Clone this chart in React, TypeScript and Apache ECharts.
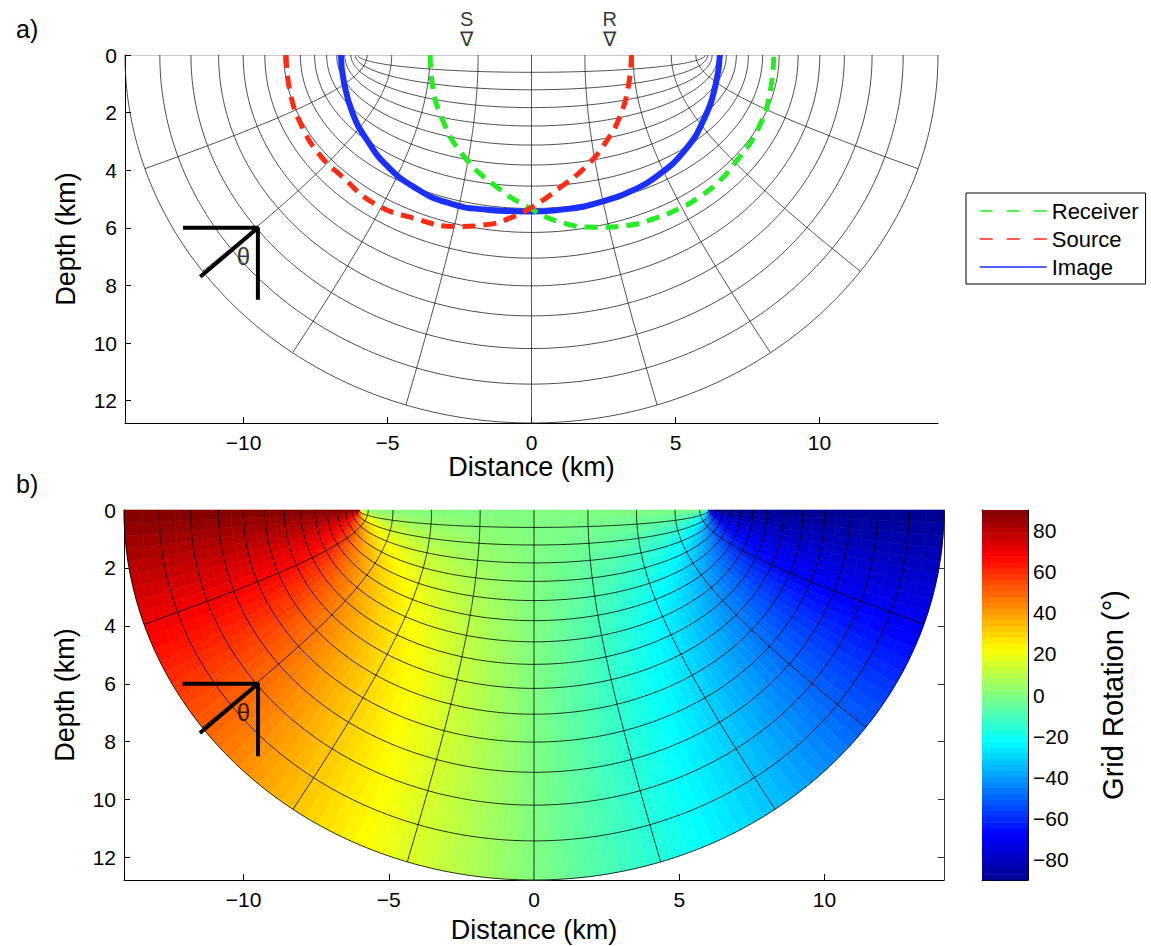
import React, { useEffect, useRef } from 'react';
import * as echarts from 'echarts';

// Elliptic coordinate grid parameters
const FOCUS = 6; // km, foci at +/- FOCUS on the surface
const U_LEVELS = [0.1, 0.2, 0.3, 0.4, 0.5, 0.6, 0.7, 0.8, 0.9, 1.0, 1.1, 1.2, 1.3, 1.4, 1.5];
const U_OUTER = 1.5;
const V_LEVELS_DEG = [18, 36, 54, 72, 90, 108, 126, 144, 162];

// Curves (x km, depth km)
const RECEIVER: number[][] = [
  [-3.52, 0], [-3.46, 0.9], [-3.15, 2.1], [-2.4, 3.45], [-1.25, 4.55], [0, 5.35], [1.0, 5.8],
  [2.2, 5.98], [3.3, 5.92], [4.2, 5.7], [5.2, 5.3], [5.8, 4.95], [6.5, 4.4], [7.1, 3.7],
  [7.85, 2.6], [8.3, 1.2], [8.41, 0],
];
const SOURCE: number[][] = [
  [-8.52, 0], [-8.38, 1.3], [-7.94, 2.54], [-7.31, 3.52], [-6.6, 4.2], [-5.47, 5.15],
  [-4.1, 5.66], [-2.6, 5.95], [-1.5, 5.88], [-0.6, 5.6], [0.05, 5.26], [0.97, 4.62],
  [1.89, 3.87], [2.6, 3.0], [3.1, 2.05], [3.38, 0.98], [3.47, 0],
];
const IMAGE: number[][] = [
  [-6.62, 0], [-6.52, 0.9], [-6.2, 2.05], [-5.68, 3.0], [-5.01, 3.85], [-4.09, 4.58],
  [-2.94, 5.12], [-1.56, 5.37], [-0.2, 5.43], [1.2, 5.35], [2.48, 5.08], [3.5, 4.7],
  [4.3, 4.25], [5.33, 3.3], [6.0, 2.2], [6.4, 1.0], [6.54, 0],
];

const SR_NAMES = ['S', 'R'];
const SR_X = [-2.25, 2.72];

const THETA_ARMS: number[][] = [[-12.1, 6], [-9.5, 6], [-9.5, 8.5]];
const THETA_RAY: number[][] = [[-9.5, 6], [-11.5, 7.7]];
const THETA_LABEL: number[] = [-10.0, 7.0];

const X_TICKS = [-10, -5, 0, 5, 10];
const Y_TICKS = [0, 2, 4, 6, 8, 10, 12];
const CB_TICKS = [-80, -60, -40, -20, 0, 20, 40, 60, 80];
const CB_MIN = -90;
const CB_MAX = 90;
const JET = ['#00008f', '#0000ff', '#0080ff', '#00ffff', '#80ff80', '#ffff00', '#ff8000', '#ff0000', '#800000'];

const FONT = "'Liberation Sans', Arial, Helvetica, sans-serif";

function ell(u: number, vDeg: number): number[] {
  const v = (vDeg * Math.PI) / 180;
  return [FOCUS * Math.cosh(u) * Math.cos(v), FOCUS * Math.sinh(u) * Math.sin(v)];
}

function rotationDeg(u: number, vDeg: number): number {
  const v = (vDeg * Math.PI) / 180;
  return (Math.atan(-Math.tanh(u) * (Math.cos(v) / Math.sin(v))) * 180) / Math.PI;
}

const X_EXT = FOCUS * Math.cosh(U_OUTER);
const Z_EXT = FOCUS * Math.sinh(U_OUTER);

function gridLineData(): any[] {
  const out: any[] = [];
  for (const u of U_LEVELS) {
    for (let d = 0; d <= 180; d += 1) out.push(ell(u, d));
    out.push(['-', '-']);
  }
  for (const vd of V_LEVELS_DEG) {
    for (let k = 0; k <= 150; k++) out.push(ell((k / 150) * U_OUTER, vd));
    out.push(['-', '-']);
  }
  return out;
}

function cellData(): number[][] {
  const NU = 30;
  const NV = 90;
  const out: number[][] = [];
  for (let i = 0; i < NU; i++) {
    const u0 = (i / NU) * U_OUTER;
    const u1 = ((i + 1) / NU) * U_OUTER;
    for (let j = 0; j < NV; j++) {
      const v0 = (j / NV) * 180;
      const v1 = ((j + 1) / NV) * 180;
      out.push([u0, u1, v0, v1, rotationDeg((u0 + u1) / 2, (v0 + v1) / 2)]);
    }
  }
  return out;
}

function colorbarData(): number[][] {
  const N = 64;
  const out: number[][] = [];
  for (let i = 0; i < N; i++) {
    const a = CB_MIN + ((CB_MAX - CB_MIN) * i) / N;
    const b = CB_MIN + ((CB_MAX - CB_MIN) * (i + 1)) / N;
    out.push([a, b, 0, 0, (a + b) / 2]);
  }
  return out;
}

const minus = (v: any) => String(v).replace('-', '\u2212');

function valueXAxis(gridIndex: number, withLabels: boolean, name?: string, nameGap?: number) {
  return {
    type: 'value', gridIndex, position: 'bottom', min: -X_EXT, max: X_EXT,
    name: name || '', nameLocation: 'middle', nameGap: nameGap || 30,
    nameTextStyle: { fontSize: 27, color: '#000', fontFamily: FONT },
    axisLine: { show: true, onZero: false, lineStyle: { color: '#000', width: 1 } },
    axisTick: { show: true, inside: true, length: 6, customValues: X_TICKS, lineStyle: { color: '#000' } },
    axisLabel: { show: withLabels, customValues: X_TICKS, fontSize: 21, color: '#000', margin: 9, formatter: minus, fontFamily: FONT },
    splitLine: { show: false },
  };
}

function topXAxis(gridIndex: number) {
  return {
    type: 'value', gridIndex, position: 'top', min: -X_EXT, max: X_EXT,
    axisLine: { show: true, onZero: false, lineStyle: { color: '#c8c8c8', width: 1 } },
    axisTick: { show: false }, axisLabel: { show: false }, splitLine: { show: false },
  };
}

function depthAxis(gridIndex: number) {
  return {
    type: 'value', gridIndex, position: 'left', inverse: true, min: 0, max: Z_EXT,
    name: 'Depth (km)', nameLocation: 'middle', nameGap: 46, nameRotate: 90,
    nameTextStyle: { fontSize: 27, color: '#000', fontFamily: FONT },
    axisLine: { show: true, onZero: false, lineStyle: { color: '#000', width: 1 } },
    axisTick: { show: true, inside: true, length: 6, customValues: Y_TICKS, lineStyle: { color: '#000' } },
    axisLabel: { show: true, customValues: Y_TICKS, fontSize: 21, color: '#000', margin: 8, fontFamily: FONT },
    splitLine: { show: false },
  };
}

export default function App() {
  const ref = useRef<HTMLDivElement>(null);
  useEffect(() => {
    if (!ref.current) return;
    const chart = echarts.init(ref.current, undefined, { renderer: 'svg' });
    const lines = gridLineData();

    const renderCell = (params: any, api: any) => {
      const u0 = api.value(0), u1 = api.value(1), v0 = api.value(2), v1 = api.value(3);
      const pts = [ell(u0, v0), ell(u1, v0), ell(u1, v1), ell(u0, v1)].map((p) => api.coord(p));
      const c = api.visual('color');
      return { type: 'polygon', shape: { points: pts }, style: { fill: c, stroke: c, lineWidth: 0.6 } };
    };
    const renderBar = (params: any, api: any) => {
      const a = api.coord([0, api.value(0)]);
      const b = api.coord([1, api.value(1)]);
      return {
        type: 'rect',
        shape: { x: a[0], y: Math.min(a[1], b[1]), width: b[0] - a[0], height: Math.abs(b[1] - a[1]) + 0.6 },
        style: { fill: api.visual('color') },
      };
    };

    const thetaSeries = (xi: number, yi: number) => [
      { type: 'line', xAxisIndex: xi, yAxisIndex: yi, data: THETA_ARMS, symbol: 'none', silent: true, lineStyle: { color: '#000', width: 4 }, z: 5 },
      { type: 'line', xAxisIndex: xi, yAxisIndex: yi, data: THETA_RAY, symbol: 'none', silent: true, lineStyle: { color: '#000', width: 4 }, z: 5 },
      {
        type: 'scatter', xAxisIndex: xi, yAxisIndex: yi, data: [THETA_LABEL], symbolSize: 0, silent: true, z: 6,
        label: { show: true, position: 'inside', formatter: '\u03b8', fontSize: 24, color: '#000', fontFamily: FONT },
      },
    ];

    const hiddenDot = { opacity: 0, borderWidth: 0 };

    const option: any = {
      animation: false,
      textStyle: { fontFamily: FONT },
      title: [
        { text: 'a)', left: 11, top: 11, textStyle: { fontSize: 25, fontWeight: 'normal', color: '#000', fontFamily: FONT } },
        { text: 'b)', left: 11, top: 466, textStyle: { fontSize: 25, fontWeight: 'normal', color: '#000', fontFamily: FONT } },
      ],
      grid: [
        { left: 125, top: 55, width: 813, height: 368 },
        { left: 124, top: 510, width: 820, height: 370 },
        { left: 982, top: 510, width: 46, height: 370 },
      ],
      legend: {
        orient: 'vertical', left: 966, top: 193,
        borderColor: '#000', borderWidth: 1, padding: [7, 7, 6, 13],
        itemWidth: 67, itemHeight: 14, itemGap: 6,
        textStyle: { fontSize: 22, color: '#000', fontFamily: FONT },
        data: [
          { name: 'Receiver', itemStyle: hiddenDot, lineStyle: { width: 1.5, type: [13, 14] } },
          { name: 'Source', itemStyle: hiddenDot, lineStyle: { width: 1.5, type: [13, 14] } },
          { name: 'Image', itemStyle: hiddenDot, lineStyle: { width: 1.5 } },
        ],
      },
      visualMap: {
        type: 'continuous', show: false, min: CB_MIN, max: CB_MAX, dimension: 4,
        seriesIndex: [8, 13], inRange: { color: JET },
      },
      xAxis: [
        valueXAxis(0, true, 'Distance (km)', 30),
        topXAxis(0),
        valueXAxis(1, true, 'Distance (km)', 36),
        topXAxis(1),
        { type: 'value', gridIndex: 2, position: 'bottom', min: 0, max: 1, axisLine: { show: true, onZero: false, lineStyle: { color: '#000' } }, axisTick: { show: false }, axisLabel: { show: false }, splitLine: { show: false } },
        { type: 'value', gridIndex: 2, position: 'top', min: 0, max: 1, axisLine: { show: true, onZero: false, lineStyle: { color: '#000' } }, axisTick: { show: false }, axisLabel: { show: false }, splitLine: { show: false } },
      ],
      yAxis: [
        depthAxis(0),
        depthAxis(1),
        {
          type: 'value', gridIndex: 1, position: 'right', inverse: true, min: 0, max: Z_EXT,
          axisLine: { show: true, onZero: false, lineStyle: { color: '#333' } },
          axisTick: { show: true, inside: true, length: 6, customValues: Y_TICKS, lineStyle: { color: '#333' } },
          axisLabel: { show: false }, splitLine: { show: false },
        },
        {
          type: 'value', gridIndex: 2, position: 'left', min: CB_MIN, max: CB_MAX,
          axisLine: { show: true, onZero: false, lineStyle: { color: '#000' } },
          axisTick: { show: true, inside: true, length: 4, customValues: CB_TICKS, lineStyle: { color: '#000' } },
          axisLabel: { show: false }, splitLine: { show: false },
        },
        {
          type: 'value', gridIndex: 2, position: 'right', min: CB_MIN, max: CB_MAX,
          name: 'Grid Rotation (\u00b0)', nameLocation: 'middle', nameGap: 70, nameRotate: 90,
          nameTextStyle: { fontSize: 29, color: '#000', fontFamily: FONT },
          axisLine: { show: true, onZero: false, lineStyle: { color: '#000' } },
          axisTick: { show: true, inside: true, length: 4, customValues: CB_TICKS, lineStyle: { color: '#000' } },
          axisLabel: { show: true, customValues: CB_TICKS, fontSize: 21, color: '#000', margin: 5, formatter: minus, fontFamily: FONT },
          splitLine: { show: false },
        },
      ],
      series: [
        // 0: panel a grid
        { type: 'line', xAxisIndex: 0, yAxisIndex: 0, data: lines, symbol: 'none', silent: true, connectNulls: false, lineStyle: { color: '#222', width: 0.8 }, z: 2 },
        // 1-3: curves
        { name: 'Receiver', type: 'line', xAxisIndex: 0, yAxisIndex: 0, data: RECEIVER, symbol: 'none', smooth: 0.5, color: '#22ee22', lineStyle: { color: '#22ee22', width: 5, type: [13, 8] }, z: 4 },
        { name: 'Source', type: 'line', xAxisIndex: 0, yAxisIndex: 0, data: SOURCE, symbol: 'none', smooth: 0.5, color: '#ff2a12', lineStyle: { color: '#ff2a12', width: 5, type: [13, 8] }, z: 4 },
        { name: 'Image', type: 'line', xAxisIndex: 0, yAxisIndex: 0, data: IMAGE, symbol: 'none', smooth: 0.5, color: '#1a30ff', lineStyle: { color: '#1a30ff', width: 6 }, z: 3 },
        // 4: S/R markers
        {
          type: 'scatter', xAxisIndex: 0, yAxisIndex: 0, clip: false, symbolSize: 0, silent: true,
          data: SR_X.map((x, i) => ({ value: [x, 0], name: SR_NAMES[i] })),
          label: { show: true, position: 'top', distance: 6, formatter: (p: any) => p.name + '\n\u2207', fontSize: 20, lineHeight: 20, color: '#000', fontFamily: FONT },
        },
        // 5-7: theta panel a
        ...thetaSeries(0, 0),
        // 8: panel b fill
        { type: 'custom', xAxisIndex: 2, yAxisIndex: 1, data: cellData(), renderItem: renderCell, silent: true, z: 1 },
        // 9: panel b grid
        { type: 'line', xAxisIndex: 2, yAxisIndex: 1, data: lines, symbol: 'none', silent: true, connectNulls: false, lineStyle: { color: '#000', width: 0.8 }, z: 2 },
        // 10-12: theta panel b
        ...thetaSeries(2, 1),
        // 13: colorbar
        { type: 'custom', xAxisIndex: 4, yAxisIndex: 3, data: colorbarData(), renderItem: renderBar, silent: true, z: 1 },
      ],
    };
    chart.setOption(option);
    return () => chart.dispose();
  }, []);
  return <div ref={ref} style={{ position: 'fixed', left: 0, top: 0, width: 1151, height: 946, background: '#fff' }} />;
}
